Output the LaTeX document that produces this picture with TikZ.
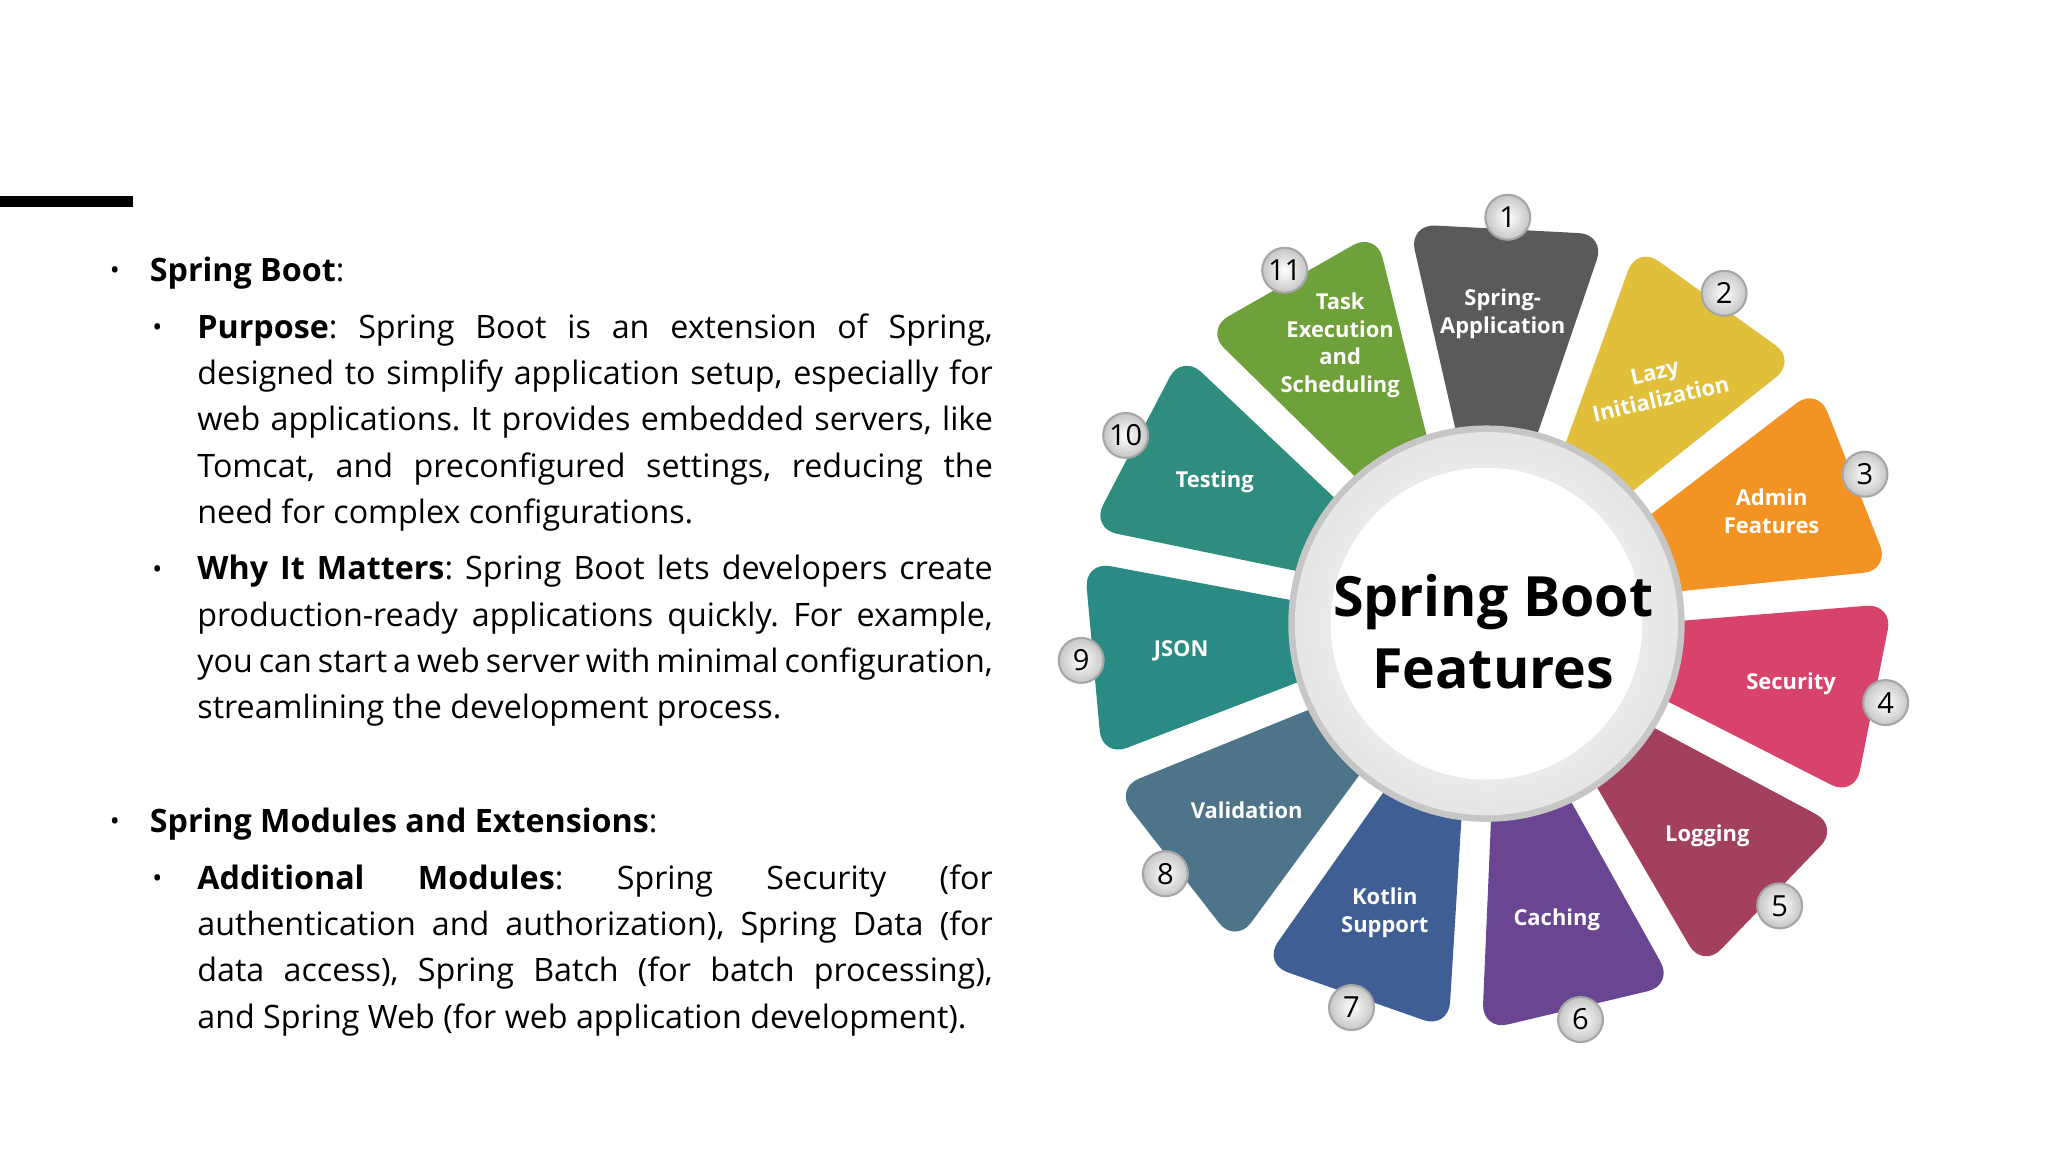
\documentclass[tikz,border=0pt]{standalone}
\usepackage{fontspec}
\setmainfont{Open Sans}[HyphenChar=None]
\frenchspacing
\begin{document}
\begin{tikzpicture}[x=0.5pt,y=-0.5pt,
  body/.style={anchor=north west,inner sep=0,text width=301pt,align=justify,font=\fontsize{12.2}{17.5}\selectfont},
  head/.style={anchor=north west,inner sep=0,font=\fontsize{12.2}{17.5}\selectfont},
  bul/.style={inner sep=0,font=\fontsize{10}{12}\selectfont},
  plab/.style={text=white,align=center,font=\fontsize{8.3}{10.4}\selectfont\bfseries},
  badge/.style={circle,draw=gray!70,line width=0.8pt,inner color=white,outer color=gray!45,minimum size=17pt,inner sep=0,font=\fontsize{11}{12}\selectfont}]
\useasboundingbox (0,0) rectangle (1550,872);
\fill (0,148) rectangle (101,157);
% left text
\node[bul] (b1) at (87,207) {•};
\node[head] (t1) at (113,194) {\textbf{Spring Boot}:};
\node[bul] (b2) at (119,250) {•};
\node[body] (t2) at (149,237) {\textbf{Purpose}: Spring Boot is an extension of Spring, designed to simplify application setup, especially for web applications. It provides embedded servers, like Tomcat, and preconfigured settings, reducing the need for complex configurations.};
\node[bul] (b3) at (119,433) {•};
\node[body] (t3) at (149,420) {\textbf{Why It Matters}: Spring Boot lets developers create production-ready applications quickly. For example, you can start a web server with minimal configuration,\linebreak streamlining the development process.};
\node[bul] (b4) at (87,624) {•};
\node[head] (t4) at (113,611) {\textbf{Spring Modules and Extensions}:};
\node[bul] (b5) at (119,667) {•};
\node[body] (t5) at (149,654) {\textbf{Additional Modules}: Spring Security (for authentication and authorization), Spring Data (for data access), Spring Batch (for batch processing),\linebreak and Spring Web (for web application development).};
% wheel
\begin{scope}[shift={(1125,472)},yscale=-1]
\foreach \i/\c/\t/\r/\d/\o in {
 1/5A5A5A/{Spring-\\Application}/0/235/0,
 2/E2BF3B/{Lazy\\Initialization}/13/222/0,
 3/F39323/{Admin\\Features}/0/232/0,
 4/D8436B/{Security}/0/235/0,
 5/A3405E/{Logging}/0/232/0,
 6/6A4591/{Caching}/0/230/0,
 7/3F5E93/{Kotlin\\Support}/0/232/0,
 8/4D7488/{Validation}/0/230/0,
 9/2A8A84/{JSON}/0/232/0,
 10/2F8D80/{Testing}/0/232/0,
 11/6EA13A/{Task\\Execution\\and\\Scheduling}/0/238/-2}{
  \pgfmathsetmacro\a{87-(\i-1)*360/11}
  \definecolor{pc}{HTML}{\c}
  \fill[pc,rounded corners=10] (\a-11.5:130) -- (\a-14:308) -- (\a+14:308) -- (\a+11.5:130) -- cycle;
  \node[plab,rotate=\r] (l\i) at (\a+\o:\d) {\t};
  \node[badge] (n\i) at (\a:308) {\i};
}
\fill[gray!45] (0,0) circle (150);
\shade[inner color=white,outer color=gray!20] (0,0) circle (145);
\fill[white] (0,0) circle (118);
\node[align=center,font=\fontsize{21}{27}\selectfont\bfseries] (c) at (5,-6) {Spring Boot\\Features};
\end{scope}
\end{tikzpicture}
\end{document}
